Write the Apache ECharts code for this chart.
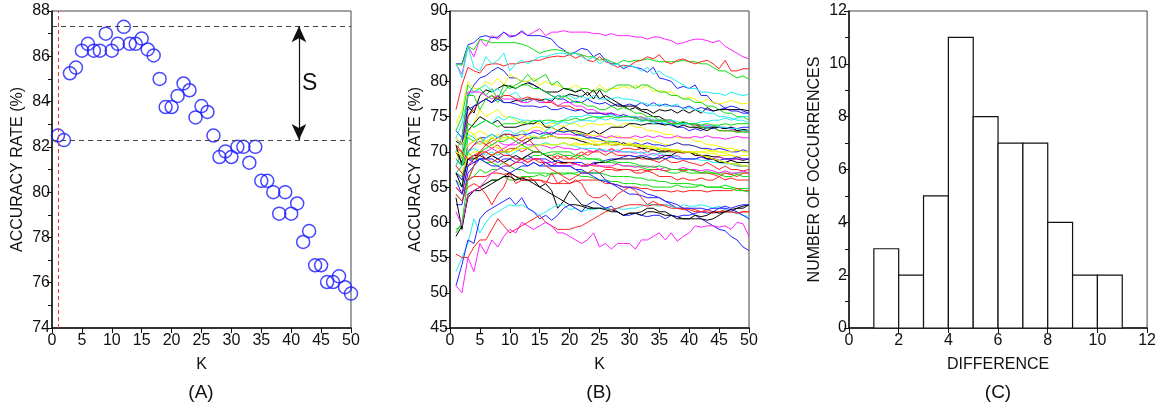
<!DOCTYPE html>
<html>
<head>
    <meta charset="utf-8" />
    <title>ECharts</title>
    <script src="https://cdn.jsdelivr.net/npm/echarts@6/dist/echarts.min.js"></script>
</head>
<body style="margin:0;background:#fff;">
    <div id="main" style="width:1159px;height:406px;"></div>
    <script type="text/javascript">
        // K = 1..50
        var kValues = [];
        for (var k = 1; k <= 50; k++) kValues.push(k);

        // (A) accuracy rate of one dataset
        var accA = [82.5, 82.3, 85.25, 85.5, 86.25, 86.55, 86.25, 86.25, 87, 86.25,
            86.55, 87.3, 86.55, 86.55, 86.78, 86.3, 86.04, 85, 83.76, 83.76,
            84.25, 84.8, 84.5, 83.3, 83.8, 83.54, 82.5, 81.55, 81.8, 81.55,
            82, 82, 81.3, 82, 80.5, 80.5, 80, 79.05, 80, 79.05,
            79.5, 77.8, 78.28, 76.77, 76.77, 76.03, 76.03, 76.28, 75.8, 75.52];
        var refLevels = [87.33, 82.3];  // max / min dashed lines
        var bestK = 1;                  // red dashed line
        var arrowK = 41.3;              // where the S arrow sits
        var sLabel = [43.1, 84.8];

        // (B) accuracy curves of all datasets
        var curveColors = ['#ff22ff', '#2222ff', '#11dd11', '#ff2222', '#22eeee', '#2222ff', '#f5f500', '#11dd11', '#000000', '#000000',
            '#22eeee', '#ff22ff', '#ff2222', '#11dd11', '#f5f500', '#2222ff', '#000000', '#22eeee', '#f5f500', '#ff22ff',
            '#11dd11', '#2222ff', '#ff2222', '#000000', '#f5f500', '#ff22ff', '#22eeee', '#ff2222', '#11dd11', '#2222ff',
            '#000000', '#f5f500', '#ff2222', '#11dd11', '#2222ff', '#ff2222', '#000000', '#11dd11', '#ff2222', '#22eeee',
            '#2222ff', '#ff2222', '#ff22ff', '#000000', '#ff22ff', '#11dd11', '#22eeee', '#ff2222', '#2222ff', '#f5f500', '#11dd11'];
        var curvesB = [
            [82.5, 81, 85, 83.5, 86, 85, 86.5, 86, 87, 86.5, 86.5, 87, 86.5, 87, 87.5, 86.5, 87, 87, 87.2, 87, 87, 87, 87, 86.8, 86.8, 86.5, 86.8, 86.5, 86.5, 86.5, 86.3, 86.3, 86, 86.3, 86.3, 86, 85.8, 85.3, 85.5, 85.8, 86, 86, 85.8, 85.5, 85.8, 85, 84.5, 84, 83.5, 83.2],
            [82.5, 82.5, 85.2, 85.5, 86.3, 86.5, 86.2, 86.3, 87, 86.3, 86.5, 87.2, 86.5, 86.5, 86.5, 86.3, 86, 85, 84.5, 83.8, 84.2, 84.7, 84.5, 83.5, 84, 83, 82.5, 82.5, 81.8, 82.2, 82, 81.8, 81.3, 82, 80.5, 80.3, 80, 79, 79.3, 79, 79.5, 78, 78, 77, 76.8, 76.2, 76.5, 76.3, 75.8, 75.5],
            [82.5, 82.3, 85, 84.5, 86, 85.8, 85.5, 85.5, 85.5, 85.5, 85.5, 85.3, 85, 84.5, 84, 84.3, 84.5, 84.5, 84.3, 84, 84, 83.8, 83.5, 83.5, 83, 83.2, 82.8, 82.5, 83, 82.8, 83, 83, 83.2, 83, 82.8, 82.8, 82.8, 82.8, 83, 82.8, 82.8, 82.5, 82.5, 82, 81.5, 81.5, 81, 80.5, 80.8, 80.3],
            [76, 79.5, 82, 81.5, 81.2, 82.3, 82.5, 82.5, 82.2, 82.5, 82.5, 82.7, 82.8, 83, 83, 83.3, 83.5, 83.6, 83.5, 83.8, 83.3, 83.7, 83, 82.8, 83.5, 82.8, 82.5, 82, 82.3, 82.2, 82.8, 83, 83.5, 83.2, 83.8, 82.8, 82.5, 83, 83.2, 82.8, 82.5, 82.8, 83, 82.5, 81.8, 83, 81.5, 81.5, 81.8, 81.8],
            [82.5, 80.5, 85, 82, 81.5, 83.5, 82.5, 83, 84, 81.5, 82.5, 83, 82.5, 83, 83.5, 83.5, 83.8, 84, 84, 83.8, 84, 83.5, 83, 83.5, 82.5, 83, 82.3, 82.5, 82, 82.3, 82, 81.5, 82, 81, 81.5, 80.8, 80.5, 80, 79.5, 79, 79, 78.5, 78.5, 78.3, 78.3, 78, 78.5, 78.2, 78, 78.2],
            [73, 72, 78, 79.5, 80.5, 80.8, 81.5, 82, 81.5, 80.5, 80.5, 80, 80, 79.5, 79, 78.5, 78, 77.5, 77.5, 77, 77.2, 77, 77.5, 77, 76.8, 77, 76.5, 76.8, 76.5, 76.8, 76.5, 77, 76.5, 77, 76.5, 76.8, 76.5, 76.5, 76.2, 76.5, 76, 76.3, 76, 75.8, 76, 76.2, 75.8, 75.8, 75.5, 75.5],
            [74, 76, 80, 79, 79, 80, 79.5, 80.5, 79.5, 81, 80.5, 80, 80, 80.5, 79.5, 80, 79.5, 79.5, 79, 79, 79.5, 79, 79, 78.5, 79.5, 78.8, 79, 79, 79.3, 79, 79.5, 79, 79.5, 78.5, 78.8, 78.5, 78.5, 78, 77.5, 77.8, 77.5, 77, 77.5, 77, 76.8, 77, 77.3, 77, 76.8, 77],
            [73, 75, 79.5, 78.5, 79, 78, 79, 77.5, 79.5, 79, 79.5, 80, 81, 80, 80.5, 81, 79.5, 80, 79, 79, 78.5, 79, 79, 78.5, 79, 78.5, 79, 79.5, 79.5, 79.5, 79, 79.5, 79.5, 79, 78.5, 78.5, 78, 78, 77.5, 77.5, 77, 77, 76.5, 76.5, 76, 75.5, 75.5, 75, 75, 74.5],
            [71.5, 71, 76.5, 75.5, 78, 78.8, 78.5, 79, 79.5, 79.3, 79, 79.5, 79.8, 79.5, 79, 78.5, 78.5, 78.5, 79, 78.8, 78.5, 78.8, 78, 78.8, 77.5, 78, 77.5, 77, 76.5, 76.5, 76.5, 76, 76, 75.5, 76, 75.8, 76, 75.5, 76, 75.5, 76, 75.5, 76.3, 75.8, 76, 76, 76, 76, 76, 75.8],
            [70, 69, 75, 76.5, 77, 77.5, 77, 78, 77, 77, 77.3, 77.2, 77.5, 77.5, 77.3, 77.5, 77.2, 78, 77.8, 78.2, 78, 77.8, 78.5, 77.5, 78.8, 77.5, 77, 76.5, 76.5, 76, 76.3, 75.8, 75.5, 75, 75, 74.5, 74.5, 74, 74.2, 74, 74, 73.5, 73.5, 73.5, 73.5, 73.3, 73.5, 73, 73.2, 73],
            [72, 74, 78, 78.5, 79, 79.5, 78.5, 79, 78, 78, 78.5, 77.5, 77, 77.5, 77, 77.5, 77.5, 78, 77.8, 78, 77.5, 78, 77.5, 78, 77.5, 77.5, 77.5, 77.8, 77.5, 77.5, 77.3, 77, 76.8, 76.5, 76.8, 76.5, 76.5, 76.8, 76, 76.3, 76, 75.8, 75.5, 75.5, 75, 75, 74.8, 74.5, 74.5, 74],
            [72, 71, 78.5, 78.5, 78.5, 78, 77.5, 78, 77.5, 77.5, 77.5, 77, 77, 77.5, 77, 77, 77.3, 76.5, 77, 77, 76.5, 76.5, 76, 76, 75.5, 75.5, 75.5, 75.3, 75, 75, 75, 74.8, 74.8, 74.5, 74.5, 74.5, 74.3, 74, 74, 74, 74, 73.8, 73.8, 73.5, 73.5, 73.5, 73.2, 73, 73, 73],
            [68, 70, 75, 76, 77, 77.5, 78, 77.5, 78, 78, 77.5, 77.5, 77.8, 77.5, 77.5, 77, 77, 76.5, 76.5, 76.5, 76, 76, 75.5, 75.5, 75.5, 75.3, 75.5, 75, 75, 75, 74.8, 75, 74.5, 74.5, 74.3, 74.5, 74, 74, 74, 74, 73.8, 73.5, 73.5, 73.5, 73, 73, 73, 72.8, 73, 72.8],
            [70, 72, 78, 78, 76, 77.5, 78, 77, 78.5, 79.5, 79, 79.5, 79.5, 79, 79, 78.5, 78, 77.5, 78, 77.5, 77, 77, 76.5, 76.5, 76, 76, 76.5, 76, 76.3, 76, 75.5, 75.5, 75, 75, 74.5, 74.5, 74.5, 74, 74, 74, 73.5, 73.5, 73.3, 73.5, 73, 73, 73, 72.8, 72.8, 72.8],
            [69, 70, 73, 74, 76, 75, 75.5, 76, 75, 75, 74.5, 74, 74.5, 74, 74, 73.5, 74, 74, 73.5, 74, 74, 73.5, 74, 74, 73.8, 74, 74, 73.5, 74, 74, 73.5, 73.5, 73, 73, 72.8, 72.5, 72.5, 72, 72, 72, 71.5, 71.5, 71, 71, 70.8, 70.5, 70.5, 70.3, 70, 70],
            [72, 71, 76, 76.5, 77, 77.5, 77, 77.5, 77, 77, 76.8, 76.5, 76.5, 76.5, 76.3, 76.5, 76, 76, 76.3, 76, 75.8, 76, 75.5, 75.5, 75.5, 75.3, 75.5, 75, 75.3, 75, 74.8, 74.5, 74.5, 74.3, 74, 74, 73.8, 73.5, 73.5, 73, 73.3, 73, 73.5, 73.3, 73.5, 73.3, 73.5, 73.3, 73.5, 73.5],
            [70, 68.5, 73, 74, 75, 74.5, 74, 74.5, 73.5, 73.5, 73.5, 73.8, 74, 74, 74.5, 73.5, 73.5, 73, 73.5, 73, 73, 72.8, 72.5, 73, 72.5, 73, 73.5, 73.5, 73.5, 74, 74, 73.8, 74, 74, 74, 73.8, 74, 73.5, 73.8, 73.5, 73.5, 73.3, 73, 73.5, 73.5, 73.3, 73.5, 73, 73.2, 73],
            [68, 70, 74, 73.5, 74, 74.5, 74, 75, 74.5, 75, 74.8, 74.5, 74.5, 74.3, 74.5, 74, 74.3, 74, 74.3, 74, 74.3, 74.5, 74.5, 74.3, 74.8, 74.5, 74.8, 74.5, 74.5, 74.5, 74.5, 74.3, 74.5, 74, 74.3, 74, 74, 73.8, 74, 74, 74, 73.8, 73.5, 73.8, 73.5, 73.5, 73.3, 73.3, 73, 73],
            [70, 69, 72, 72.5, 73, 72.5, 72, 72.5, 72, 72, 72.5, 73, 73, 73.5, 73.5, 73, 73.5, 73, 73, 73, 72.8, 72.5, 72.5, 72.3, 72.5, 72, 72, 72.3, 72, 72, 71.8, 71.5, 71.8, 71.5, 71.3, 71, 71, 71.3, 71, 71, 70.8, 70.5, 70.3, 70, 70, 69.8, 69.5, 69.3, 69, 69],
            [67, 66, 71, 71.5, 72, 71.5, 71, 71.5, 71, 71, 71.5, 72, 72.5, 73, 73, 72.5, 72.8, 72.5, 72.5, 72.5, 72.3, 72.5, 72.3, 72, 72.3, 72, 72.3, 72, 72, 72, 72.3, 72, 72.3, 72, 72.3, 72, 72, 72.3, 72, 72, 72.2, 72, 72.3, 72, 72, 71.8, 72, 72.2, 72, 72],
            [66, 65, 72, 71.5, 72, 71, 72, 71.5, 72.5, 72, 72, 71.5, 72, 72, 72, 72.5, 72.5, 73, 72.8, 73, 72.5, 72.5, 72, 72, 71.8, 71.5, 71.5, 71.3, 71, 71, 71, 70.8, 70.5, 70.5, 70.3, 70, 70, 70.3, 70, 70, 69.8, 69.5, 69.3, 69, 68.8, 68.5, 68.3, 68.3, 68, 68],
            [69, 68, 70, 71, 72, 72, 72.5, 72, 72.5, 72.5, 72.3, 72.5, 72.5, 72.8, 72.5, 72.8, 72.5, 73, 72.8, 73, 72.5, 72.3, 72, 72, 71.8, 71.5, 71.3, 71.5, 71, 71, 71.3, 71, 71.3, 71, 71, 70.8, 71, 71.3, 71, 71, 70.8, 70.5, 70.5, 70.3, 70.5, 70.3, 70, 70, 70.3, 70],
            [67, 68, 70, 71, 71.5, 71, 70.5, 71, 70, 70.5, 70.5, 70, 70.5, 70, 70, 69.5, 69.5, 69, 69.5, 69, 69, 69.5, 70, 70, 70.5, 70, 70.5, 70, 70.5, 70.5, 70.3, 70.5, 70, 70.3, 70, 70.3, 70, 70, 69.8, 70, 69.5, 69.5, 69, 69, 68.5, 68.5, 68.3, 68, 68, 68],
            [71, 68, 69, 69.5, 69.5, 70, 69.5, 70, 70, 70, 70.5, 71, 71.5, 72, 72, 72, 72.3, 72, 72, 72, 71.8, 71.5, 71.3, 71, 71, 71.3, 71, 71, 71.3, 71, 70.8, 70.5, 70.5, 70.3, 70, 70, 70.3, 70, 70, 70, 69.8, 69.5, 69.5, 69.3, 69.3, 69, 69, 69, 68.8, 69],
            [70, 69.5, 71, 71.5, 72, 71.5, 71, 70.5, 70.5, 70, 70.5, 71, 70.5, 71, 71, 71.3, 71, 71, 71.3, 71, 71.3, 71, 71, 71.3, 71, 71.3, 71, 71, 71, 71.3, 71, 71, 70.8, 70.8, 70.5, 70.5, 70.3, 70.3, 70, 70, 70, 70, 69.8, 69.8, 69.5, 69.5, 69.5, 69.3, 69.5, 69.5],
            [65, 64, 68, 69, 69.5, 70, 70.5, 70, 70.5, 71, 71, 71.5, 71, 71, 71, 70.8, 70.5, 70.8, 70.5, 70.5, 70.3, 70.5, 70.3, 70, 70.3, 70, 70.3, 70, 70, 70, 69.8, 70, 69.5, 69.8, 69.5, 69.5, 69.3, 69.5, 69, 69, 69, 69.3, 69, 69, 69.3, 69, 68.8, 69, 69, 69],
            [69, 68, 70, 70.5, 70, 69.5, 70, 69.5, 70, 69.5, 70, 70.5, 70.5, 71, 71, 71.3, 71, 71, 71.3, 71, 70.8, 70.5, 70.5, 70.5, 70.3, 70.3, 70, 70.3, 70, 70, 70, 69.8, 70, 69.5, 69.8, 69.5, 69.5, 69.3, 69, 69, 69, 68.8, 68.8, 68.5, 68.5, 68.3, 68.3, 68, 68, 68],
            [71, 70, 68, 69, 70, 71, 71.5, 72, 72.5, 72.5, 72, 71.5, 72, 71, 70, 69.5, 69, 69.5, 69, 69, 69.5, 70, 69.5, 70, 70, 69.5, 70, 69.5, 69.5, 69.5, 69.3, 69, 69, 68.8, 68.5, 69, 68.5, 68.5, 68.8, 68.5, 68.3, 68, 68.5, 68, 67.5, 68, 67.5, 67.5, 67.3, 67.5],
            [67, 66.5, 70, 69, 69, 68.5, 68.5, 68, 68.5, 68, 68.5, 69, 69, 69.5, 69.5, 69.8, 70, 70, 70, 70, 69.5, 69.5, 69, 69, 69, 68.5, 68.5, 68.3, 68, 68, 68, 67.8, 67.5, 67.5, 67.5, 67.3, 67, 67, 67.3, 67, 67, 67, 67.3, 67, 67, 67, 66.8, 67, 67, 67],
            [67, 66, 69, 68.5, 69, 69, 69.5, 69, 69.5, 69.5, 69, 69, 69.5, 69, 69, 69, 68.5, 68.8, 68.5, 68.5, 68.5, 68.5, 68, 68.5, 68.5, 68.8, 69, 69, 69.3, 69.5, 69.3, 69.5, 69.3, 69, 69.3, 69, 69.3, 69, 69, 69, 69, 69.3, 69, 69, 68.8, 69, 69, 69.3, 69, 69],
            [67, 65, 69, 69, 69.5, 69, 69.5, 69, 68.5, 69, 69.5, 69, 69.5, 70, 70, 69.5, 69, 68.5, 68.5, 68.5, 68.3, 68, 68, 68.3, 68.5, 68.5, 68.8, 69, 69, 69, 69, 69.3, 69, 69, 69, 69.5, 69.5, 70, 70, 70, 69.5, 69.5, 69, 69, 68.5, 68.5, 68.8, 68.5, 68.5, 68.5],
            [68, 67, 69.5, 70, 70, 70, 69.5, 70, 70, 70, 70.3, 70.5, 70.5, 70.8, 71, 71, 71, 71, 71.3, 71, 71, 71, 71.3, 71, 71, 71, 71, 71.3, 71, 71, 70.8, 70.8, 70.5, 70.5, 70.5, 70.3, 70.3, 70, 70, 70, 69.8, 69.5, 69.3, 69, 68.8, 68.5, 68.3, 68.3, 68, 68],
            [70.5, 70, 69, 69.5, 70, 70, 69.5, 70, 69.5, 69.5, 69, 69, 68.5, 69, 68.5, 68.5, 68, 68.5, 68.3, 68.5, 68.3, 68, 68.3, 68, 68, 67.8, 67.8, 67.5, 67.5, 67.5, 67.3, 67.5, 67.3, 67.5, 67.5, 67.3, 67.5, 67.5, 67.3, 67.5, 67.3, 67, 67, 66.8, 66.5, 67, 66.8, 66.5, 67, 67],
            [64, 63, 66, 66.5, 67.5, 67, 67.5, 67.5, 68, 68, 67.5, 67.5, 67, 67, 67, 67, 66.8, 67, 66.8, 67, 66.8, 66.5, 66.5, 66.3, 66, 66, 65.8, 65.8, 65.5, 65.5, 65.5, 65.3, 65.3, 65, 65, 65, 65, 65.3, 65, 65, 65, 65.3, 65, 65, 65, 65.3, 65, 64.8, 64.8, 64.8],
            [62.5, 62.5, 67, 68, 69, 69, 69, 68.5, 69, 69, 68.5, 68.5, 68, 68.5, 68, 68, 68, 68, 68, 68, 67.5, 67.5, 67, 67, 67, 66, 65.5, 65, 64.5, 64, 64, 63.8, 63.5, 63.5, 63.5, 63, 62.5, 62, 62, 61.5, 61, 60.5, 60, 59.5, 59, 58.8, 58, 57.5, 56.5, 56],
            [65, 64, 66, 66.5, 66.5, 66.5, 67, 67, 66.8, 67, 66.5, 66.3, 66.5, 66, 66, 65.8, 65.5, 65.5, 65.5, 65.5, 65.8, 66, 66, 66, 66, 65.5, 65.5, 65.3, 65, 65, 65, 64.8, 64.8, 64.5, 64.5, 64.5, 64.3, 64.5, 64.3, 64.5, 64.5, 64.5, 64.3, 64.5, 64.5, 64.5, 64.5, 64.8, 64.5, 64.5],
            [58, 59.5, 63.5, 64.5, 64.5, 65, 65.5, 66, 66.5, 67, 66.5, 66, 66, 66, 65, 65.5, 64.5, 62, 63, 64.5, 63.5, 62.5, 62.3, 62, 62, 62, 61.8, 61.5, 61, 61.3, 61.3, 61.5, 62, 62, 61.5, 61.5, 61, 60.8, 60.5, 60.5, 60.5, 60.5, 60.3, 60.5, 61, 61.5, 61.5, 62, 62.3, 62.5],
            [59, 59.5, 64, 64.5, 65, 65.5, 66, 66, 66.5, 66, 66, 66.5, 66.5, 66.5, 66.8, 66.5, 67, 67, 67, 67, 67, 67.3, 67, 67, 67, 66.8, 66.5, 66.5, 66.5, 66.5, 66.3, 66.3, 66, 66, 65.8, 65.8, 65.5, 65.5, 65.5, 65.5, 65.3, 65.3, 65, 65, 65, 64.8, 64.8, 64.5, 64.5, 64.3],
            [64, 63, 65, 65.5, 65, 64, 62.5, 64, 65, 67, 65.5, 66, 66, 66, 66, 65.5, 67, 65.5, 66, 65.5, 66, 65.5, 64, 63.5, 63.5, 64, 63, 64, 64.5, 65, 64.5, 63.5, 62.5, 63, 62.5, 62.5, 62.3, 62, 62, 62, 61.8, 61.5, 61.8, 61.5, 61.5, 61.8, 61.5, 61.3, 61.5, 61.5],
            [53, 55, 57, 60.5, 58.5, 60, 61, 61.5, 62, 62.5, 62.3, 62.5, 62, 61.5, 61, 61.5, 62, 62.5, 62.5, 61.8, 62, 61.5, 61.8, 61.8, 62, 62, 61.8, 62, 61.8, 62, 62, 62.3, 62.5, 62.5, 62.3, 62.5, 62.3, 62, 62.5, 62.3, 62.3, 62.5, 62.3, 62, 62.3, 61.8, 61.5, 61.3, 61, 60.8],
            [51, 54, 57.5, 57, 60.5, 61.5, 62, 62.5, 63, 63.5, 62.5, 63.5, 62, 61.5, 60.5, 61, 60.3, 61, 62, 62.5, 62, 61.5, 62.5, 63, 62.5, 62, 62.3, 61.5, 61, 61, 61.3, 61, 60.8, 61, 61, 60.5, 61, 60.8, 61, 61, 61.3, 61.5, 61.3, 61.5, 62, 62, 61.8, 61.5, 61, 60.5],
            [55.5, 55, 55, 56.5, 57.5, 57.5, 59, 60.5, 59.5, 58.5, 59, 59.5, 60, 60.5, 61, 60, 59.5, 59, 59, 59, 59.3, 59.5, 60, 60.5, 61, 61.5, 61.8, 62, 62.3, 62.5, 62.5, 62.5, 62.3, 62.5, 62.5, 62.3, 62, 62, 61.8, 61.8, 61.5, 61.5, 61.5, 61.3, 61.5, 61.5, 61.5, 61.3, 61.5, 61.5],
            [51, 50, 55, 53, 57, 55.5, 57.5, 56.5, 58, 59, 58.5, 60, 59.5, 59, 59.5, 60, 59.5, 58.5, 58.5, 58, 57.5, 57, 57.5, 58.5, 56.5, 57, 56.2, 57, 57, 57, 56.2, 57.5, 57.5, 58, 58.5, 57.5, 58.5, 57.3, 58, 58.5, 59.5, 59.3, 59.5, 59.5, 59.3, 59.5, 59, 60, 59.8, 58],
            [63.5, 59, 64, 64.5, 65, 65.5, 66, 66, 66.5, 66.5, 66, 66.3, 66, 65.5, 65, 64.5, 64, 63.5, 63, 62.5, 62.5, 62.3, 62, 62, 62, 61.8, 61.5, 61.5, 61, 61.3, 61.3, 61, 61.5, 61.5, 61.3, 61, 61, 60.5, 60.5, 60.5, 61, 60.8, 61, 61.5, 61.3, 61.5, 61.8, 62, 62, 62.5],
            [61.5, 59.5, 64, 64.5, 65, 66, 67, 67.5, 68, 68, 68.5, 68.5, 69, 69, 69, 68.5, 68.5, 68, 68, 68, 68.3, 68, 68, 68.3, 68, 68, 68, 68.3, 68, 68, 67.8, 68, 67.8, 68, 67.5, 67.8, 67.5, 67.5, 67.8, 67.5, 67.5, 67.3, 67.5, 67.3, 67, 67.3, 67, 67, 67.3, 67],
            [58.5, 60, 66, 68, 70, 70.5, 71, 71.5, 71.5, 72, 71.5, 71, 70.5, 70, 70, 69.5, 69.5, 69.8, 69.5, 69.5, 69.3, 69, 69, 69, 68.8, 68.5, 68.8, 68.5, 68.5, 68.5, 68.3, 68, 68, 67.8, 68, 67.8, 67.5, 67.5, 67.5, 67.5, 67.3, 67, 67, 67, 66.8, 66.5, 66.5, 66.8, 66.5, 66.5],
            [67, 68, 72.5, 72, 71, 72, 72.5, 72, 73, 73, 72.5, 73, 72.5, 72, 72, 73, 73.5, 74, 74.5, 75, 75, 75, 75.3, 75, 75, 75, 75.3, 75, 75, 75, 75, 74.8, 74.8, 74.5, 74.5, 74.3, 74.5, 74.3, 74, 74, 74, 74.3, 74.3, 74.5, 74.5, 74.8, 74.5, 74.8, 75, 75],
            [68, 67, 66, 68, 70, 69, 68.5, 69, 68.5, 68, 68.5, 69, 68.5, 69, 69, 68, 67.5, 67, 66.5, 66, 66.5, 67, 67, 67.5, 67, 67.5, 67.5, 67.3, 67.5, 67.5, 67, 67, 67.3, 67, 66.5, 66.5, 66.5, 66, 66.3, 66, 66, 66.3, 66, 66, 66.5, 66, 66.3, 66, 66, 66],
            [66, 64, 68, 68.5, 69, 68.5, 68, 68, 67.5, 67, 67.5, 68, 68, 68.5, 68, 68.5, 68, 68, 68, 68, 67.5, 67, 67, 66.5, 66, 65.8, 65.5, 65.3, 65, 65, 64.8, 64.5, 64, 63.8, 63.5, 63, 62.8, 62.5, 62, 62, 62, 62, 61.8, 62, 62, 62.3, 62, 62.3, 62.5, 62.5],
            [72, 71, 73, 72.5, 71, 71.5, 72, 71.5, 72, 72, 72, 72.5, 72, 72.3, 72, 72, 72.3, 72, 72, 72, 72, 71.8, 71.8, 71.5, 71.5, 71.5, 71.3, 71.3, 71, 71, 71, 70.8, 70.8, 70.5, 70.5, 70.5, 70.3, 70.3, 70, 70, 70, 70, 70, 70.3, 70, 70, 70, 70.3, 70, 70],
            [69, 68, 74, 73.5, 74, 74.5, 74, 73.5, 74, 74, 74, 74.3, 74, 74.5, 74.3, 74.5, 74.5, 74.3, 74.5, 74.5, 74.8, 74.5, 74.8, 75, 74.8, 75, 75, 74.8, 75, 75, 74.8, 74.5, 74.5, 74.3, 74.5, 74.3, 74, 74, 74.3, 74, 74, 73.8, 74, 73.8, 73.8, 74, 73.8, 74, 74, 74]
        ];

        // (C) histogram of differences
        var binStart = [1, 2, 3, 4, 5, 6, 7, 8, 9, 10];
        var binEnd = [2, 3, 4, 5, 6, 7, 8, 9, 10, 11];
        var binCount = [3, 2, 5, 11, 8, 7, 7, 4, 2, 2];

        var FONT = 'Liberation Sans';
        var grids = [
            { left: 52, right: 808, top: 11, bottom: 78 },
            { left: 450, right: 410, top: 11, bottom: 78 },
            { left: 849, right: 11, top: 11, bottom: 78 }
        ];
        grids.forEach(function (g) { g.show = true; g.borderColor = '#444'; g.borderWidth = 1; });

        function xAx(i, max, interval, name) {
            return {
                type: 'value', gridIndex: i, min: 0, max: max, interval: interval,
                name: name, nameLocation: 'middle', nameGap: 29,
                nameTextStyle: { fontFamily: FONT, fontSize: 16, color: '#111' },
                axisLine: { show: true, onZero: false, lineStyle: { color: '#111', width: 1.5 } },
                axisTick: { show: true, length: 5, lineStyle: { color: '#111' } },
                axisLabel: { fontFamily: FONT, fontSize: 16, color: '#111', margin: 5 },
                splitLine: { show: false }
            };
        }
        function yAx(i, min, max, interval, name, minor) {
            return {
                type: 'value', gridIndex: i, min: min, max: max, interval: interval,
                name: name, nameLocation: 'middle', nameGap: 26,
                nameTextStyle: { fontFamily: FONT, fontSize: 16, color: '#111' },
                axisLine: { show: true, onZero: false, lineStyle: { color: '#111', width: 1.5 } },
                axisTick: { show: true, length: 5, lineStyle: { color: '#111' } },
                minorTick: { show: minor, splitNumber: 2, length: 4, lineStyle: { color: '#111' } },
                axisLabel: { fontFamily: FONT, fontSize: 16, color: '#111', margin: 2 },
                splitLine: { show: false }
            };
        }

        var series = [];
        series.push({
            type: 'scatter', xAxisIndex: 0, yAxisIndex: 0,
            data: kValues.map(function (k, i) { return [k, accA[i]]; }),
            symbol: 'circle', symbolSize: 13,
            itemStyle: { color: 'rgba(0,0,0,0)', borderColor: '#1a1aff', borderWidth: 1.5 },
            markLine: {
                silent: true, symbol: 'none', animation: false,
                label: { show: false },
                data: [
                    { yAxis: refLevels[0], lineStyle: { color: '#444', type: [5, 4], width: 1 } },
                    { yAxis: refLevels[1], lineStyle: { color: '#444', type: [5, 4], width: 1 } },
                    { xAxis: bestK, lineStyle: { color: '#ff3333', type: [4, 3], width: 1 } }
                ]
            },
            markPoint: {
                silent: true, symbol: 'circle', symbolSize: 0,
                label: { show: true, formatter: 'S', fontFamily: FONT, fontSize: 23, color: '#111' },
                data: [{ coord: sLabel }]
            }
        });
        series.push({
            type: 'line', xAxisIndex: 0, yAxisIndex: 0, data: [], silent: true,
            markLine: {
                silent: true, symbol: ['arrow', 'arrow'], symbolSize: [11, 16], animation: false,
                label: { show: false },
                lineStyle: { color: '#111', type: 'solid', width: 1.2 },
                data: [[{ coord: [arrowK, refLevels[0]] }, { coord: [arrowK, refLevels[1]] }]]
            }
        });
        curvesB.forEach(function (c, i) {
            series.push({
                type: 'line', xAxisIndex: 1, yAxisIndex: 1, showSymbol: false, symbol: 'none',
                data: kValues.map(function (k, j) { return [k, c[j]]; }),
                lineStyle: { color: curveColors[i], width: 1 }, silent: true
            });
        });
        series.push({
            type: 'custom', xAxisIndex: 2, yAxisIndex: 2,
            data: binStart.map(function (s, i) { return [s, binEnd[i], binCount[i]]; }),
            encode: { x: [0, 1], y: 2 },
            renderItem: function (params, api) {
                var p0 = api.coord([api.value(0), 0]);
                var p1 = api.coord([api.value(1), api.value(2)]);
                return {
                    type: 'rect',
                    shape: { x: p0[0], y: p1[1], width: p1[0] - p0[0], height: p0[1] - p1[1] },
                    style: { fill: '#fff', stroke: '#111', lineWidth: 1.2 }
                };
            }
        });

        var captions = [['(A)', 201], ['(B)', 599], ['(C)', 998]];

        var myChart = echarts.init(document.getElementById('main'));
        myChart.setOption({
            animation: false,
            backgroundColor: '#fff',
            grid: grids,
            xAxis: [xAx(0, 50, 5, 'K'), xAx(1, 50, 5, 'K'), xAx(2, 12, 2, 'DIFFERENCE')],
            yAxis: [yAx(0, 74, 88, 2, 'ACCURACY RATE (%)', true), yAx(1, 45, 90, 5, 'ACCURACY RATE (%)', false),
                yAx(2, 0, 12, 2, 'NUMBER OF OCCURRENCES', true)],
            graphic: captions.map(function (c) {
                return {
                    type: 'text', x: c[1], y: 393,
                    style: { text: c[0], fontFamily: FONT, fontSize: 19, fill: '#111', textAlign: 'center', textVerticalAlign: 'middle' }
                };
            }),
            series: series
        });
    </script>
</body>
</html>
